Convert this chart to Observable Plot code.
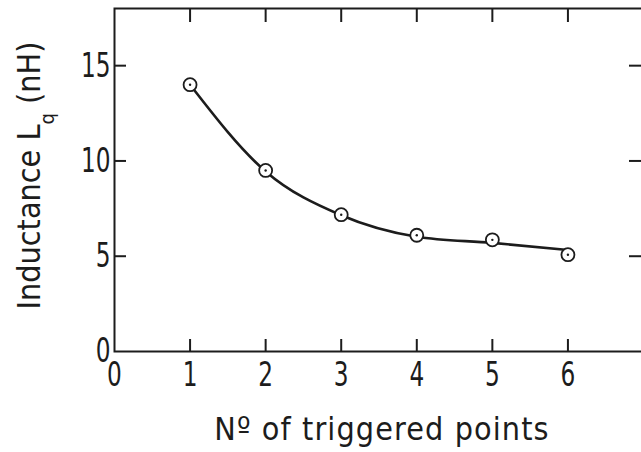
<!DOCTYPE html>
<html><head><meta charset="utf-8">
<script src="https://cdn.jsdelivr.net/npm/d3@7"></script>
<script src="https://cdn.jsdelivr.net/npm/@observablehq/plot@0.6"></script>
<style>
html,body{margin:0;padding:0;background:#fff;}
</style></head><body><div id="chart"></div>
<script>
// ---- data ----
const triggeredPoints = [1, 2, 3, 4, 5, 6];
const inductance = [14.0, 9.5, 7.18, 6.1, 5.86, 5.08];      // measured points (nH)
const fitCurve = [14.0, 9.45, 7.15, 6.02, 5.7, 5.33];        // hand-drawn smooth curve
const xTickLabels = [0, 1, 2, 3, 4, 5, 6];
const xTickMarks = [1, 2, 3, 4, 5, 6];
const yTickLabels = [0, 5, 10, 15];
const yTickMarks = [5, 10, 15];
const xTitle = "Nº of triggered points";
const yTitleMain = "Inductance L", yTitleSub = "q", yTitleEnd = " (nH)";

const points = triggeredPoints.map((x, i) => ({x, y: inductance[i]}));
const curve = triggeredPoints.map((x, i) => ({x, y: fitCurve[i]}));

const W = 641, H = 452, mL = 114, mR = -2, mT = 8, mB = 101;
const innerW = W - mL - mR, innerH = H - mT - mB;
const ink = "#1c1c1c";
const tickFont = `"DejaVu Sans Condensed","DejaVu Sans",sans-serif`;
const titleFont = `"DejaVu Sans Condensed","DejaVu Sans",sans-serif`;
const yTitleFull = yTitleMain + yTitleSub + yTitleEnd;

const chart = Plot.plot({
  width: W, height: H,
  marginLeft: mL, marginRight: mR, marginTop: mT, marginBottom: mB,
  style: {background: "#fff", color: ink, overflow: "hidden"},
  x: {domain: [0, 7]},
  y: {domain: [0, 18]},
  marks: [
    Plot.frame({stroke: ink, strokeWidth: 2}),
    Plot.tickX(xTickMarks, {x: d => d, insetTop: innerH - 12, stroke: ink, strokeWidth: 2}),
    Plot.tickX(xTickMarks, {x: d => d, insetBottom: innerH - 14, stroke: ink, strokeWidth: 2}),
    Plot.tickY(yTickMarks, {y: d => d, insetRight: innerW - 12, stroke: ink, strokeWidth: 2}),
    Plot.tickY(yTickMarks, {y: d => d, insetLeft: innerW - 14, stroke: ink, strokeWidth: 2}),
    Plot.axisX(xTickLabels, {anchor: "bottom", tickSize: 0, tickPadding: 10, label: null,
      fontSize: 34, fontFamily: tickFont, fill: ink}),
    Plot.axisY(yTickLabels, {anchor: "left", tickSize: 0, tickPadding: 4, label: null,
      fontSize: 34, fontFamily: tickFont, fill: ink}),
    Plot.line(curve, {x: "x", y: "y", curve: "monotone-x", stroke: ink, strokeWidth: 2.6}),
    Plot.dot(points, {x: "x", y: "y", r: 6.5, fill: "#fff", stroke: ink, strokeWidth: 1.8}),
    Plot.dot(points, {x: "x", y: "y", r: 1.2, fill: ink}),
    Plot.text([xTitle], {frameAnchor: "bottom", lineAnchor: "middle", dx: 3, dy: 78, fontSize: 32,
      fontFamily: titleFont, fill: ink}),
    Plot.text([yTitleFull], {frameAnchor: "left", textAnchor: "middle", lineAnchor: "middle",
      rotate: -90, dx: -85, dy: -4.5, fontSize: 32, fontFamily: titleFont, fill: ink})
  ]
});
document.getElementById("chart").appendChild(chart);

const svg = d3.select(chart);
// narrow lettering of the tick numbers (horizontal squeeze about each label's anchor)
svg.selectAll("g[aria-label='x-axis tick label'] text, g[aria-label='y-axis tick label'] text")
  .each(function () {
    const tr = this.getAttribute("transform") || "";
    this.setAttribute("transform", tr + " scale(0.76,1)");
  });
// real subscript for L_q
svg.selectAll("text").filter(function () { return this.textContent === yTitleFull; })
  .each(function () {
    const t = d3.select(this);
    t.text(null);
    t.append("tspan").text(yTitleMain);
    t.append("tspan").attr("dy", 14).attr("font-size", 20).text(yTitleSub);
    t.append("tspan").attr("dy", -14).text(yTitleEnd);
  });
svg.selectAll("text").filter(function () { return this.textContent === xTitle; })
  .attr("letter-spacing", 1.1);
</script></body></html>
